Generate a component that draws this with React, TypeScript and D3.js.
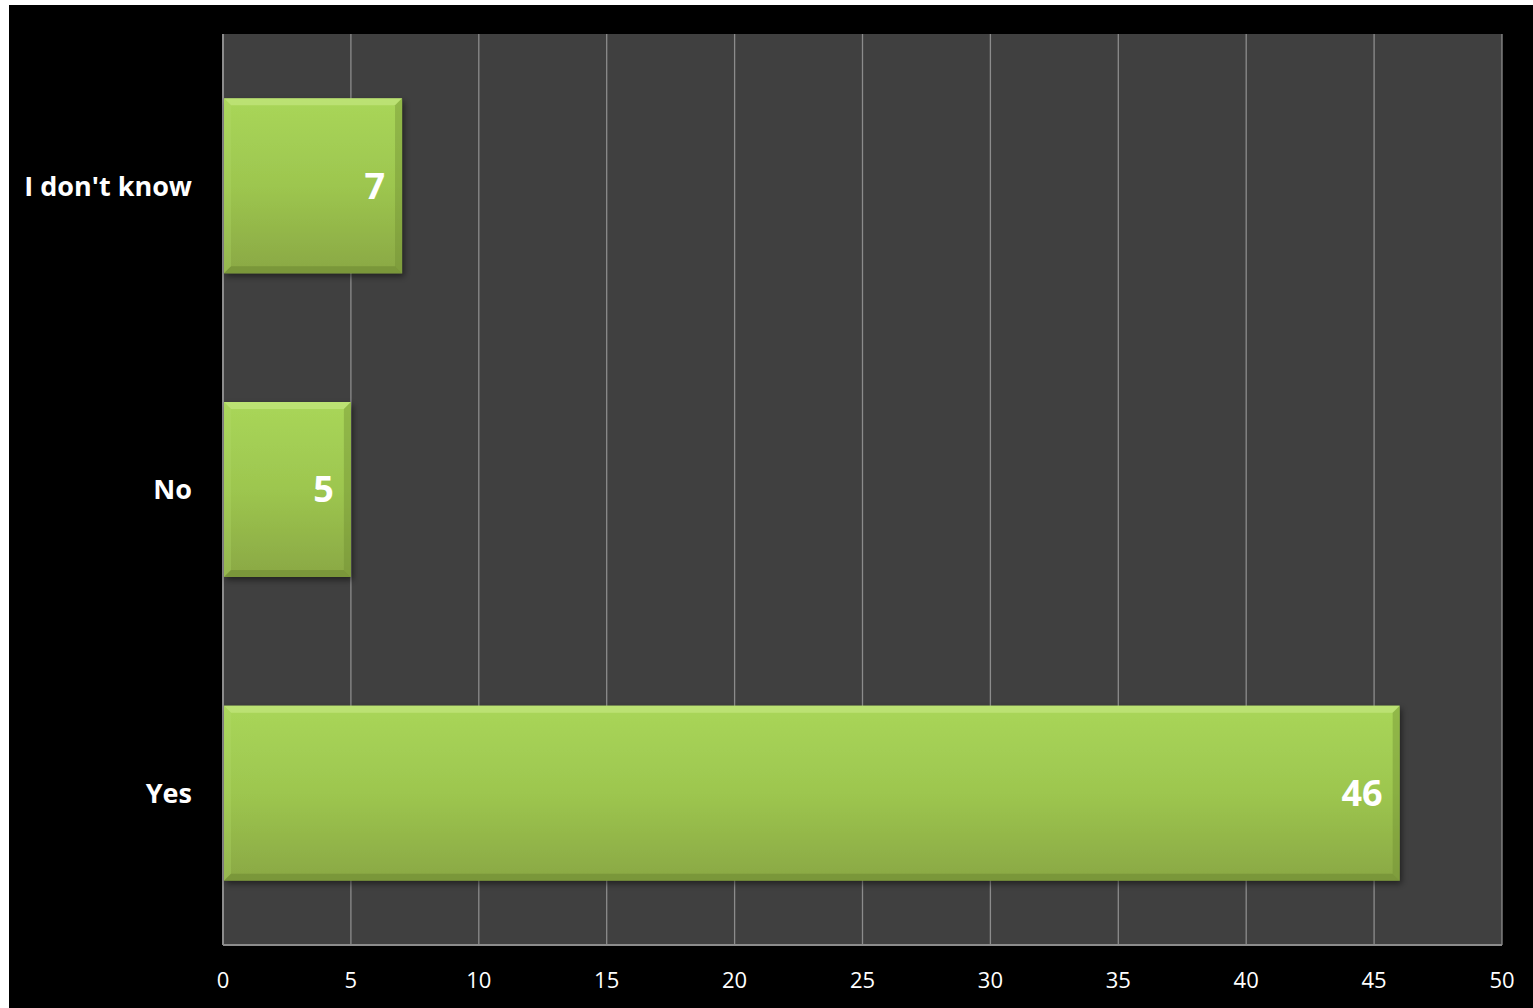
import React from "react";
import * as d3 from "d3";

const categories = ["I don't know", "No", "Yes"];
const values = [7, 5, 46];
const xTicks = [0, 5, 10, 15, 20, 25, 30, 35, 40, 45, 50];

const W = 1533;
const H = 1008;
const plot = { left: 223, right: 1502, top: 34, bottom: 945 };

export default function App() {
  const x = d3.scaleLinear().domain([0, 50]).range([plot.left, plot.right]);
  const y = d3
    .scaleBand<string>()
    .domain(categories)
    .range([plot.top, plot.bottom])
    .paddingInner(0.4237)
    .paddingOuter(0.21185);
  const bw = y.bandwidth();
  const bev = 7;
  const font = "'Open Sans', 'DejaVu Sans', sans-serif";

  return (
    <svg
      width={W}
      height={H}
      style={{ position: "absolute", left: 0, top: 0, display: "block" }}
    >
      <defs>
        <linearGradient id="barGrad" x1="0" y1="0" x2="0" y2="1">
          <stop offset="0" stopColor="#a9d659" />
          <stop offset="0.5" stopColor="#9dc64f" />
          <stop offset="1" stopColor="#8aa844" />
        </linearGradient>
        <filter id="shadow" x="-5%" y="-10%" width="115%" height="130%">
          <feDropShadow dx="2" dy="3" stdDeviation="3" floodColor="#000" floodOpacity="0.5" />
        </filter>
      </defs>
      <rect x={0} y={0} width={W} height={H} fill="#ffffff" />
      <rect x={9} y={5} width={W - 9} height={H - 5} fill="#000000" />
      <rect
        x={plot.left}
        y={plot.top}
        width={plot.right - plot.left}
        height={plot.bottom - plot.top}
        fill="#404040"
      />
      {xTicks.map((t) => (
        <line
          key={t}
          x1={x(t)}
          x2={x(t)}
          y1={plot.top}
          y2={plot.bottom}
          stroke="#8c8c8c"
          strokeWidth={1.3}
        />
      ))}
      <line x1={plot.left} x2={plot.left} y1={plot.top} y2={plot.bottom} stroke="#8c8c8c" strokeWidth={2} />
      <line x1={plot.left} x2={plot.right} y1={plot.bottom} y2={plot.bottom} stroke="#8c8c8c" strokeWidth={2} />
      {categories.map((c, i) => {
        const x0 = x(0) + 1;
        const x1 = x(values[i]);
        const y0 = y(c)!;
        const y1 = y0 + bw;
        return (
          <g key={c}>
            <rect x={x0} y={y0} width={x1 - x0} height={bw} fill="url(#barGrad)" filter="url(#shadow)" />
            <polygon
              points={`${x0},${y0} ${x1},${y0} ${x1 - bev},${y0 + bev} ${x0 + bev},${y0 + bev}`}
              fill="#c8ea85"
              opacity={0.6}
            />
            <polygon
              points={`${x0},${y0} ${x0 + bev},${y0 + bev} ${x0 + bev},${y1 - bev} ${x0},${y1}`}
              fill="#b3da6a"
              opacity={0.3}
            />
            <polygon
              points={`${x1},${y0} ${x1},${y1} ${x1 - bev},${y1 - bev} ${x1 - bev},${y0 + bev}`}
              fill="#6f8c33"
              opacity={0.4}
            />
            <polygon
              points={`${x0},${y1} ${x1},${y1} ${x1 - bev},${y1 - bev} ${x0 + bev},${y1 - bev}`}
              fill="#65802c"
              opacity={0.45}
            />
            <text
              x={x1 - 17}
              y={y0 + bw / 2}
              dy="0.36em"
              textAnchor="end"
              fill="#ffffff"
              fontFamily={font}
              fontWeight="bold"
              fontSize={36}
            >
              {values[i]}
            </text>
            <text
              x={192}
              y={y0 + bw / 2}
              dy="0.36em"
              textAnchor="end"
              fill="#ffffff"
              fontFamily={font}
              fontWeight="bold"
              fontSize={27}
            >
              {c}
            </text>
          </g>
        );
      })}
      {xTicks.map((t) => (
        <text
          key={t}
          x={x(t)}
          y={980}
          dy="0.36em"
          textAnchor="middle"
          fill="#ffffff"
          fontFamily={font}
          fontSize={22}
        >
          {t}
        </text>
      ))}
    </svg>
  );
}
